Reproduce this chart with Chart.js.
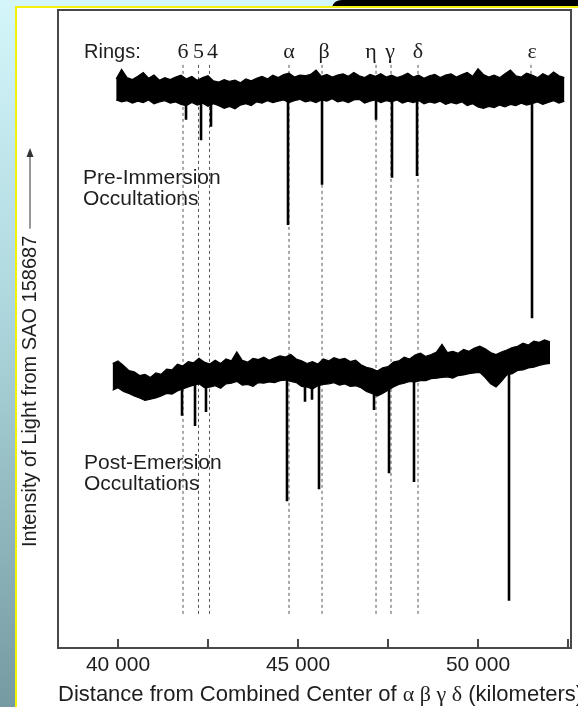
<!DOCTYPE html>
<html>
<head>
<meta charset="utf-8">
<title>Uranus ring occultations</title>
<script src="https://cdn.jsdelivr.net/npm/chart.js@4.4.1/dist/chart.umd.min.js"></script>
<style>
  html, body { margin: 0; padding: 0; background: #fff; }
</style>
</head>
<body>
<canvas id="occ" width="578" height="707"></canvas>
<script>
// ring names and their radial distance (km)
var ringNames = ['6', '5', '4', 'α', 'β', 'η', 'γ', 'δ', 'ε'];
var ringKm = [41806, 42236, 42542, 44750, 45667, 47167, 47583, 48333, 51472];

var xTicks = [40000, 42500, 45000, 47500, 50000, 52500];
var xTickLabels = ['40 000', '', '45 000', '', '50 000', ''];

// pre-immersion trace: upper / lower edge of the noise band, one sample every 150 km
var preStartKm = 39950, preStepKm = 150;
var preUpper = [89.2, 90.7, 89.4, 89.1, 89.6, 90.2, 89.3, 89.8, 89.0, 89.4,
  89.1, 89.5, 89.8, 89.2, 89.6, 89.0, 89.4, 89.7, 88.9, 88.7,
  89.1, 88.8, 89.0, 88.6, 89.2, 88.9, 89.3, 89.6, 89.2, 89.8,
  89.4, 89.9, 90.1, 89.5, 89.8, 89.7, 89.9, 90.6, 89.6, 89.9,
  89.5, 89.8, 90.0, 89.6, 90.2, 89.7, 89.4, 89.9, 89.6, 90.0,
  89.5, 89.8, 89.4, 89.7, 90.1, 89.5, 89.8, 89.3, 89.7, 89.9,
  89.4, 89.8, 90.0, 89.5, 89.9, 90.2, 89.6, 90.8, 89.9, 89.5,
  89.8, 89.4, 90.0, 90.6, 89.7, 89.5, 90.1, 89.8, 89.4, 90.0,
  89.6, 90.3, 89.7, 89.4];
var preLower = [85.9, 85.6, 85.8, 85.4, 85.7, 85.5, 85.9, 85.3, 85.6, 85.8,
  85.4, 85.6, 85.2, 85.0, 85.5, 85.1, 85.4, 84.9, 85.3, 85.0,
  84.6, 84.9, 84.5, 85.1, 85.3, 85.0, 85.6, 85.4, 85.8, 85.5,
  85.7, 85.9, 85.5, 85.8, 86.0, 85.6, 85.8, 85.5, 85.9, 85.7,
  86.1, 85.6, 85.8, 85.5, 85.9, 86.0, 85.4, 85.7, 85.9, 85.5,
  85.8, 85.6, 85.9, 85.4, 85.7, 85.5, 85.8, 85.3, 85.6, 85.4,
  85.7, 85.2, 85.5, 85.3, 85.6, 85.0, 85.3, 84.8, 84.6, 84.9,
  84.7, 85.1, 84.8, 85.2, 85.0, 85.4, 85.1, 85.3, 85.6, 85.2,
  85.5, 85.8, 85.4, 85.7];
// occultation dips: where they sit and how deep they go
var preDipKm = [41889, 42306, 42583, 44722, 45667, 47167, 47611, 48306, 51500];
var preDipLevel = [82.8, 79.6, 81.7, 66.3, 72.6, 82.8, 73.7, 74.0, 51.7];

// post-emersion trace
var postStartKm = 39850, postStepKm = 150;
var postUpper = [44.6, 45.0, 44.3, 43.5, 43.3, 42.7, 42.9, 42.4, 43.1, 42.9,
  43.7, 43.6, 44.5, 44.2, 44.9, 44.7, 45.4, 44.8, 44.5, 45.1,
  44.6, 45.3, 45.0, 46.4, 45.1, 44.8, 45.4, 45.2, 45.6, 45.1,
  45.5, 45.8, 45.6, 46.0, 45.3, 45.0, 44.6, 44.9, 44.5, 45.3,
  45.0, 45.5, 45.2, 45.4, 44.9, 45.1, 44.4, 44.0, 43.8, 43.4,
  43.9, 44.1, 44.8, 45.0, 45.6, 45.3, 45.9, 46.2, 45.7, 46.0,
  46.4, 47.6, 46.3, 46.5, 46.2, 46.8, 46.5, 47.0, 47.3, 46.9,
  46.3, 46.0, 46.4, 46.7, 47.1, 47.3, 47.8, 47.5, 48.1, 47.9,
  48.3, 48.0];
var postLower = [40.4, 40.8, 40.2, 39.9, 39.5, 39.2, 38.8, 39.0, 39.2, 39.5,
  39.9, 39.8, 40.3, 40.6, 40.9, 41.2, 41.4, 40.8, 40.9, 41.1,
  40.7, 41.4, 41.5, 41.8, 41.2, 41.3, 41.0, 41.6, 41.5, 41.7,
  41.6, 41.9, 42.0, 41.8, 41.6, 41.0, 40.9, 40.6, 41.1, 41.3,
  41.4, 41.6, 41.2, 41.4, 41.0, 41.1, 40.8, 40.2, 39.9, 39.5,
  39.9, 40.4, 40.9, 41.3, 41.5, 41.8, 41.7, 41.9, 41.9, 42.2,
  42.3, 42.4, 42.5, 42.3, 42.7, 42.8, 43.0, 43.1, 43.2, 42.4,
  41.4, 40.9, 41.8, 42.8, 43.0, 43.5, 43.6, 43.9, 44.0, 44.3,
  44.5, 44.6];
var postDipKm = [41778, 42139, 42444, 44694, 45194, 45389, 45583, 47111, 47528, 48222, 50861];
var postDipLevel = [36.4, 34.8, 37.0, 23.0, 38.6, 38.9, 24.9, 37.3, 27.4, 26.0, 7.4];

var SANS = '"Liberation Sans", Arial, sans-serif';
var SERIF = '"Liberation Serif", "Times New Roman", serif';
var INK = '#1e1e1e';

function band(start, step, vals) {
  return vals.map(function (v, i) { return { x: start + i * step, y: v }; });
}

// each dip is a vertical stroke from the middle of the band down to its level
function dips(km, level, start, step, up, lo) {
  var pts = [];
  km.forEach(function (k, i) {
    var j = Math.min(up.length - 1, Math.max(0, Math.round((k - start) / step)));
    pts.push({ x: k, y: (up[j] + lo[j]) / 2 }, { x: k, y: level[i] }, { x: k, y: null });
  });
  return pts;
}

function guides() {
  var pts = [];
  ringKm.forEach(function (k, i) {
    var bottom = ringNames[i] === 'ε' ? 87 : 4.9;
    pts.push({ x: k, y: 91.4 }, { x: k, y: bottom }, { x: k, y: null });
  });
  return pts;
}

// small sideways nudges (px) so the labels do not crowd each other
var labelNudge = { '4': 3, 'β': 2, 'η': -5, 'γ': -1, 'ε': 1 };

// x title: greek letters are set in a serif face, like the printed figure
var xTitleParts = [
  ['Distance from Combined Center of ', SANS],
  ['α β γ δ', SERIF],
  [' (kilometers)', SANS]
];

var decor = {
  id: 'decor',
  beforeDraw: function (chart) {
    var ctx = chart.ctx, w = chart.width, h = chart.height;
    ctx.save();
    var g = ctx.createLinearGradient(0, 0, 0, h);
    g.addColorStop(0, '#d4f6fa');
    g.addColorStop(0.45, '#acd6dd');
    g.addColorStop(1, '#769aa2');
    ctx.fillStyle = g;
    ctx.fillRect(0, 0, w, h);
    ctx.fillStyle = '#000';
    ctx.beginPath();
    ctx.moveTo(332, 7);
    ctx.quadraticCurveTo(334, 0, 342, 0);
    ctx.lineTo(w, 0);
    ctx.lineTo(w, 7);
    ctx.closePath();
    ctx.fill();
    ctx.fillStyle = '#f4f20c';
    ctx.fillRect(15, 6, w - 15, 2);
    ctx.fillRect(15, 6, 2, h - 6);
    ctx.fillStyle = '#fff';
    ctx.fillRect(17, 8, w - 17, h - 8);
    ctx.restore();
  },
  afterDatasetsDraw: function (chart) {
    var ctx = chart.ctx, ca = chart.chartArea, x = chart.scales.x;
    ctx.save();
    // frame
    ctx.strokeStyle = '#484848';
    ctx.lineWidth = 2;
    ctx.strokeRect(ca.left, ca.top, ca.right - ca.left, ca.bottom - ca.top);
    // inward ticks
    xTicks.forEach(function (v) {
      var px = x.getPixelForValue(v);
      ctx.beginPath();
      ctx.moveTo(px, ca.bottom);
      ctx.lineTo(px, ca.bottom - 9);
      ctx.stroke();
    });
    ctx.fillStyle = INK;
    ctx.textBaseline = 'alphabetic';
    // x axis title
    ctx.textAlign = 'left';
    var tx = ca.left;
    xTitleParts.forEach(function (p) {
      ctx.font = '22px ' + p[1];
      ctx.fillText(p[0], tx, 701);
      tx += ctx.measureText(p[0]).width;
    });
    // ring labels
    ctx.font = '20px ' + SANS;
    ctx.fillText('Rings:', ca.left + 26, ca.top + 48);
    ctx.font = '22px ' + SERIF;
    ctx.textAlign = 'center';
    ringNames.forEach(function (n, i) {
      ctx.fillText(n, x.getPixelForValue(ringKm[i]) + (labelNudge[n] || 0), ca.top + 48);
    });
    // trace names
    ctx.font = '21px ' + SANS;
    ctx.textAlign = 'left';
    ctx.fillText('Pre-Immersion', ca.left + 25, 184);
    ctx.fillText('Occultations', ca.left + 25, 205);
    ctx.fillText('Post-Emersion', ca.left + 26, 469);
    ctx.fillText('Occultations', ca.left + 26, 490);
    // y axis title with arrow
    ctx.translate(30, 547);
    ctx.rotate(-Math.PI / 2);
    ctx.font = '20px ' + SANS;
    ctx.textBaseline = 'middle';
    var label = 'Intensity of Light from SAO 158687';
    ctx.fillText(label, 0, 0);
    var tw = ctx.measureText(label).width;
    ctx.strokeStyle = '#333';
    ctx.lineWidth = 1;
    ctx.beginPath();
    ctx.moveTo(tw + 7, 0);
    ctx.lineTo(392, 0);
    ctx.stroke();
    ctx.beginPath();
    ctx.moveTo(399, 0);
    ctx.lineTo(390, -3.5);
    ctx.lineTo(390, 3.5);
    ctx.closePath();
    ctx.fillStyle = '#333';
    ctx.fill();
    ctx.restore();
  }
};

new Chart(document.getElementById('occ'), {
  type: 'line',
  data: {
    datasets: [
      { data: dips(preDipKm, preDipLevel, preStartKm, preStepKm, preUpper, preLower),
        borderColor: '#000', borderWidth: 2.6, borderCapStyle: 'butt', order: 0 },
      { data: dips(postDipKm, postDipLevel, postStartKm, postStepKm, postUpper, postLower),
        borderColor: '#000', borderWidth: 2.6, borderCapStyle: 'butt', order: 0 },
      { data: band(preStartKm, preStepKm, preUpper), borderColor: '#000', borderWidth: 1.2,
        backgroundColor: '#000', fill: 3, order: 1 },
      { data: band(preStartKm, preStepKm, preLower), borderColor: '#000', borderWidth: 1.2, order: 1 },
      { data: band(postStartKm, postStepKm, postUpper), borderColor: '#000', borderWidth: 1.2,
        backgroundColor: '#000', fill: 5, order: 1 },
      { data: band(postStartKm, postStepKm, postLower), borderColor: '#000', borderWidth: 1.2, order: 1 },
      { data: guides(), borderColor: '#555', borderWidth: 1, borderDash: [3, 3], order: 2 }
    ]
  },
  options: {
    responsive: false,
    animation: false,
    layout: { padding: { left: 58, right: 7, top: 10, bottom: 0 } },
    plugins: { legend: { display: false }, tooltip: { enabled: false } },
    elements: { point: { radius: 0 }, line: { tension: 0 } },
    scales: {
      x: {
        type: 'linear', min: 38333, max: 52583,
        grid: { display: false, drawTicks: false },
        border: { display: false },
        afterBuildTicks: function (s) { s.ticks = xTicks.map(function (v) { return { value: v }; }); },
        afterFit: function (s) { s.height = 59; },
        ticks: {
          autoSkip: false, maxRotation: 0, padding: 5, color: INK,
          font: { family: SANS, size: 21 },
          callback: function (v) { var i = xTicks.indexOf(v); return i < 0 ? '' : xTickLabels[i]; }
        },
        title: { display: false }
      },
      y: { display: false, min: 0, max: 100 }
    }
  },
  plugins: [decor]
});
</script>
</body>
</html>
